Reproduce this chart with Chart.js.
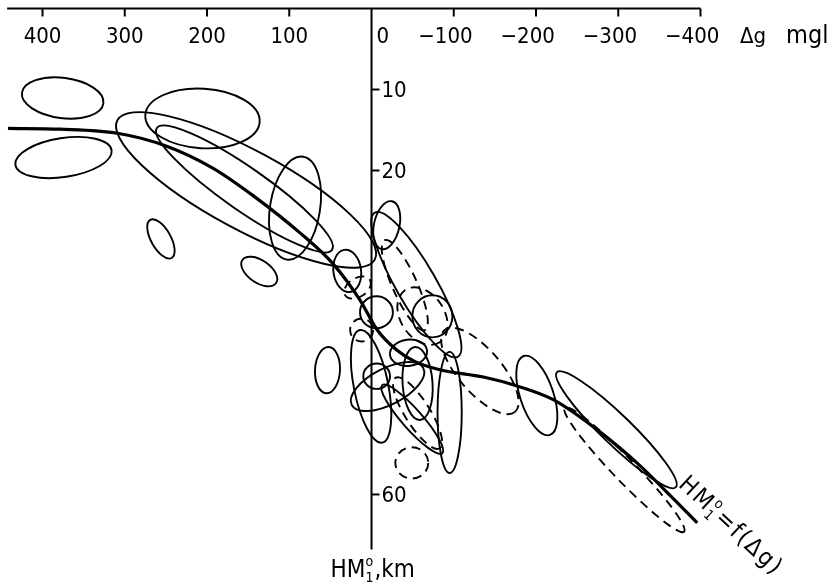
<!DOCTYPE html>
<html>
<head>
<meta charset="utf-8">
<title>HM1 = f(Δg)</title>
<script src="https://cdn.jsdelivr.net/npm/chart.js@4.4.1/dist/chart.umd.min.js"></script>
<style>
  html, body { margin: 0; padding: 0; background: #fff; }
  #wrap { width: 839px; height: 586px; position: relative; }
</style>
</head>
<body>
<div id="wrap"><canvas id="grafik"></canvas></div>
<script>
// Thick curve: Δg (mgl) vs HM1 depth (km)
const kurvaDg = [442, 379, 309, 249, 193, 144, 87, 47, 14, -7, -31, -53, -83, -136, -177, -221, -278, -326, -363, -396];
const kurvaH  = [14.8, 14.9, 15.4, 17.0, 19.7, 23.1, 27.7, 31.5, 36.0, 39.7, 42.2, 43.6, 44.6, 45.5, 46.6, 48.3, 52.3, 56.4, 60.1, 63.5];

// Tick labels
const tickDg = [400, 300, 200, 100, 0, -100, -200, -300, -400];
const tickH = [10, 20, 60];

// Ellipses: ends of the major axis [dg1, h1, dg2, h2] and minor/major ratio
const elipsPenuh = [
    [425, 10.4, 326, 11.7, 0.49],
    [433, 19.3, 316, 17.5, 0.40],
    [275, 13.15, 136, 14.0, 0.52],
    [261, 14.75, 48, 29.8, 0.20],
    [309, 13.8, -4, 31.0, 0.27],
    [83, 18.3, 103, 31.0, 0.48],
    [269, 26.1, 243, 30.8, 0.45],
    [157, 31.05, 116, 33.9, 0.55],
    [33, 29.8, 26, 35.0, 0.65],
    [-25, 23.8, -12, 29.7, 0.52],
    [-4, 25.2, -105, 43.0, 0.24],
    [14, 37.5, -26, 37.5, 0.97],
    [-74, 35.4, -74, 40.6, 0.95],
    [52, 41.8, 55, 47.5, 0.54],
    [14, 39.7, -13, 53.6, 0.30],
    [24, 48.95, -63, 44.4, 0.45],
    [10, 45.4, -22.5, 45.4, 0.95],
    [-53, 41.8, -59, 50.8, 0.41],
    [-95, 42.4, -95, 57.35, 0.20],
    [-22.5, 42.8, -67.5, 42.2, 0.70],
    [-185, 42.9, -217, 52.65, 0.40],
    [-225.5, 44.9, -370, 59.1, 0.18],
    [-13, 46.5, -86, 54.9, 0.22]
];
const elipsPutus = [
    [-16, 28.6, -65, 39.7, 0.25],
    [-41, 34.75, -83, 41.2, 0.70],
    [26, 39.7, -2, 39.7, 1.00],
    [-89, 39.7, -174.5, 49.8, 0.40],
    [-29, 56.1, -69, 56.1, 0.95],
    [-235, 49.3, -380, 64.6, 0.13],
    [32, 35.4, 2, 33.5, 0.65],
    [-29, 45.6, -83, 54.3, 0.30]
];

const huruf = '"DejaVu Sans Condensed", "Liberation Sans Narrow", "DejaVu Sans", sans-serif';

// draws "HM" with ° over 1, then the rest
function tulisHM(ctx, x, y, size, sisa) {
    ctx.textAlign = 'left';
    ctx.textBaseline = 'alphabetic';
    ctx.font = size + 'px ' + huruf;
    ctx.fillText('HM', x, y);
    const w = ctx.measureText('HM').width;
    ctx.font = Math.round(size * 0.6) + 'px ' + huruf;
    ctx.fillText('o', x + w, y - size * 0.45);
    ctx.fillText('1', x + w, y + size * 0.2);
    const w2 = ctx.measureText('1').width;
    ctx.font = size + 'px ' + huruf;
    ctx.fillText(sisa, x + w + w2 + 1, y);
}

const gambarSumbu = {
    id: 'gambarSumbu',
    afterDatasetsDraw(chart) {
        const ctx = chart.ctx;
        const px = v => chart.scales.x.getPixelForValue(v);
        const py = v => chart.scales.y.getPixelForValue(v);
        ctx.save();
        ctx.strokeStyle = '#000';
        ctx.fillStyle = '#000';

        // ellipses
        ctx.lineWidth = 1.9;
        function elips(e, dash) {
            const x1 = px(e[0]), y1 = py(e[1]), x2 = px(e[2]), y2 = py(e[3]);
            const a = Math.hypot(x2 - x1, y2 - y1) / 2;
            ctx.setLineDash(dash);
            ctx.beginPath();
            ctx.ellipse((x1 + x2) / 2, (y1 + y2) / 2, a, a * e[4], Math.atan2(y2 - y1, x2 - x1), 0, Math.PI * 2);
            ctx.stroke();
        }
        elipsPenuh.forEach(e => elips(e, []));
        elipsPutus.forEach(e => elips(e, [9, 6]));
        ctx.setLineDash([]);

        // axes
        const y0 = py(0), x0 = px(0);
        ctx.lineWidth = 2;
        ctx.beginPath();
        ctx.moveTo(px(443), y0);
        ctx.lineTo(px(-400), y0);
        ctx.moveTo(x0, y0);
        ctx.lineTo(x0, py(66.8));
        ctx.stroke();

        ctx.font = '22px ' + huruf;
        ctx.textBaseline = 'alphabetic';
        tickDg.forEach(v => {
            const x = px(v);
            if (v === 0) {
                ctx.textAlign = 'left';
                ctx.fillText('0', x + 5, y0 + 34);
                return;
            }
            ctx.beginPath();
            ctx.moveTo(x, y0);
            ctx.lineTo(x, y0 + 8);
            ctx.stroke();
            const angka = String(Math.abs(v));
            const w = ctx.measureText(angka).width;
            ctx.textAlign = 'right';
            ctx.fillText((v < 0 ? '\u2212' : '') + angka, x + w / 2, y0 + 34);
        });
        tickH.forEach(v => {
            const y = py(v);
            ctx.beginPath();
            ctx.moveTo(x0, y);
            ctx.lineTo(x0 + 8, y);
            ctx.stroke();
            ctx.textAlign = 'left';
            ctx.fillText(String(v), x0 + 10, y + 8);
        });
        ctx.textAlign = 'left';
        ctx.fillText('\u0394g', 740, y0 + 34);
        ctx.font = '25px ' + huruf;
        ctx.fillText('mgl', 786, y0 + 34);

        // axis title and curve label
        tulisHM(ctx, x0 - 41, 577, 24, ',km');
        ctx.translate(683, 480);
        ctx.rotate(43 * Math.PI / 180);
        ctx.letterSpacing = '2px';
        tulisHM(ctx, 0, 8, 24, '=f(\u0394g)');
        ctx.restore();
    }
};

new Chart(document.getElementById('grafik').getContext('2d'), {
    type: 'scatter',
    data: {
        datasets: [{
            label: 'HM1 = f(Δg)',
            data: kurvaDg.map((v, i) => ({ x: v, y: kurvaH[i] })),
            showLine: true,
            borderColor: '#000',
            borderWidth: 3.2,
            pointRadius: 0,
            cubicInterpolationMode: 'monotone'
        }]
    },
    options: {
        responsive: true,
        maintainAspectRatio: false,
        animation: false,
        layout: { padding: 0 },
        scales: {
            x: { type: 'linear', reverse: true, min: -568.4, max: 451.7, display: false },
            y: { type: 'linear', reverse: true, min: -1.05, max: 71.3, display: false }
        },
        plugins: {
            legend: { display: false },
            tooltip: { enabled: false }
        }
    },
    plugins: [gambarSumbu]
});
</script>
</body>
</html>
